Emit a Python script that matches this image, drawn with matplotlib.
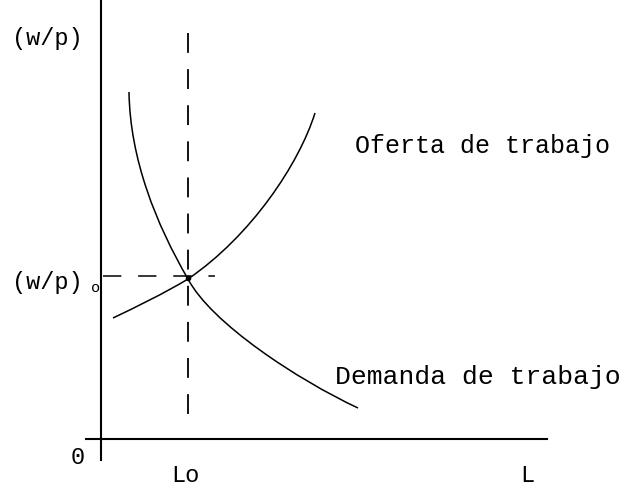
import matplotlib.pyplot as plt
from matplotlib.patches import PathPatch
from matplotlib.path import Path

# coordinates: origin at the axes crossing, units roughly = pixels
# each curve = two cubic Bezier pieces joined at the equilibrium point
demand_pts = [(28, 347), (29, 280), (55, 215), (87, 160),
              (110, 116), (197, 59), (257, 31)]
supply_pts = [(12, 121), (37, 133), (62, 145), (87, 160),
              (150, 203), (198, 275), (214, 326)]
eq_L, eq_w = 87, 163

FONT = "Liberation Mono"

fig = plt.figure(figsize=(6.35, 4.91), dpi=100)
ax = fig.add_axes([0, 0, 1, 1])
ax.set_xlim(-101, 534)
ax.set_ylim(-52, 439)
ax.axis("off")

# axes
ax.plot([0, 0], [-21, 439], color="black", lw=1.5)
ax.plot([-15, 446], [0, 0], color="black", lw=1.5)

# curves
codes = [Path.MOVETO] + [Path.CURVE4] * 6
for pts in (demand_pts, supply_pts):
    ax.add_patch(PathPatch(Path(pts, codes), facecolor="none",
                           edgecolor="black", lw=1.1))

# guide lines (drawn top-down / left-right so the dashes start at the ends)
ax.plot([eq_L, eq_L], [406, 9], color="black", lw=1.3, dashes=(11, 9))
ax.plot([2, 114], [eq_w, eq_w], color="black", lw=1.1, dashes=(12, 11))
ax.plot([eq_L], [eq_w - 2], "o", color="black", ms=3)

# labels
kw = dict(family=FONT, fontsize=17, color="black")
ax.text(-54, 401, "(w/p)", ha="center", va="center", **kw)
ax.text(-54, 157, "(w/p)", ha="center", va="center", **kw)
ax.text(-5, 151, "o", ha="center", va="center", family=FONT, fontsize=11)
ax.text(-23, -19, "0", ha="center", va="center", **kw)
ax.text(84, -36, "Lo", ha="center", va="center", **kw)
ax.text(426, -36, "L", ha="center", va="center", **kw)
ax.text(254, 293, "Oferta de trabajo", ha="left", va="center",
        family=FONT, fontsize=18)
ax.text(234, 62, "Demanda de trabajo", ha="left", va="center",
        family=FONT, fontsize=19)

fig.savefig("out.png", dpi=100)
